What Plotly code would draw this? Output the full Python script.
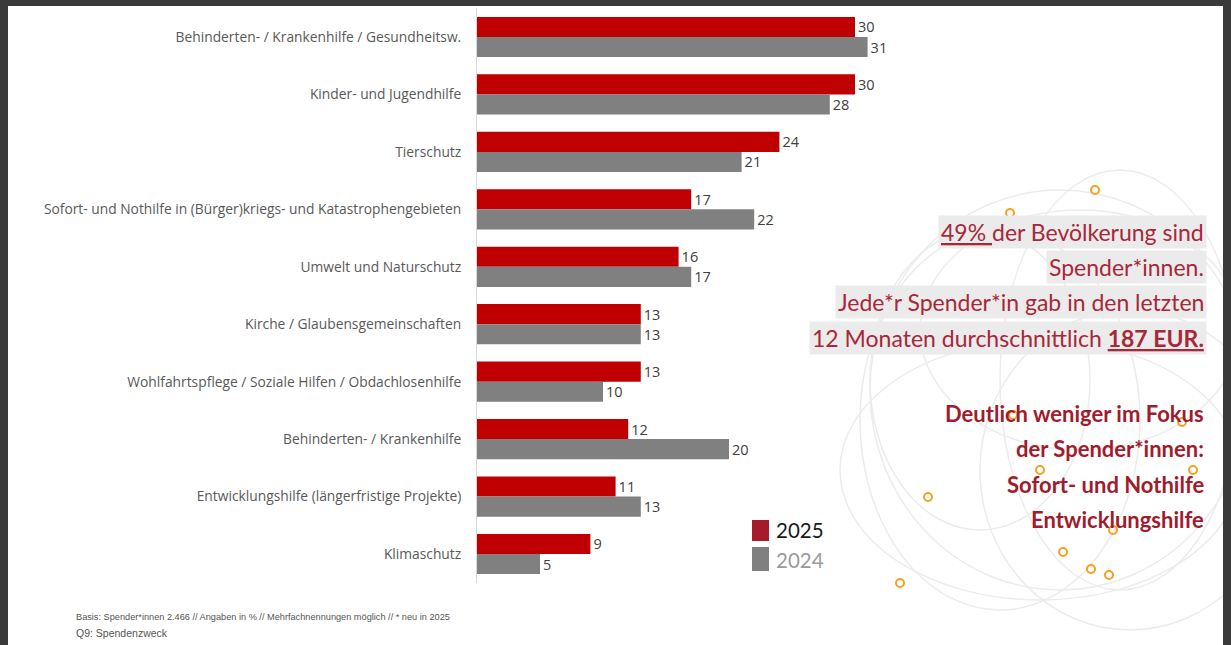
import plotly.graph_objects as go

W, H = 1231, 645

categories = [
    "Behinderten- / Krankenhilfe / Gesundheitsw.",
    "Kinder- und Jugendhilfe",
    "Tierschutz",
    "Sofort- und Nothilfe in (Bürger)kriegs- und Katastrophengebieten",
    "Umwelt und Naturschutz",
    "Kirche / Glaubensgemeinschaften",
    "Wohlfahrtspflege / Soziale Hilfen / Obdachlosenhilfe",
    "Behinderten- / Krankenhilfe",
    "Entwicklungshilfe (längerfristige Projekte)",
    "Klimaschutz",
]
values_2025 = [30, 30, 24, 17, 16, 13, 13, 12, 11, 9]
values_2024 = [31, 28, 21, 22, 17, 13, 10, 20, 13, 5]
series_names = ["2025", "2024"]

RED = "#c00000"
GREY = "#808080"
TXT_RED = "#a8283a"
BOLD_RED = "#a01c2c"

def px(x):
    return x / W

def py(y):
    return 1 - y / H

fig = go.Figure()
fig.add_trace(go.Bar(
    y=categories, x=values_2025, orientation="h", name=series_names[0],
    marker=dict(color=RED, line=dict(width=0)),
    text=values_2025, textposition="outside", cliponaxis=False,
    textfont=dict(size=14.5, color="#404040", family="Open Sans"),
))
fig.add_trace(go.Bar(
    y=categories, x=values_2024, orientation="h", name=series_names[1],
    marker=dict(color=GREY, line=dict(width=0)),
    text=values_2024, textposition="outside", cliponaxis=False,
    textfont=dict(size=14.5, color="#404040", family="Open Sans"),
))

shapes = []
# decorative faint globe lines
for (cx, cy, rx, ry) in [(1060, 390, 190, 200), (1000, 420, 140, 190), (1120, 380, 120, 210),
                         (1040, 470, 200, 130), (1080, 330, 160, 120), (980, 380, 110, 150),
                         (1130, 470, 150, 160)]:
    shapes.append(dict(type="circle", xref="paper", yref="paper", layer="below",
                       x0=px(cx - rx), x1=px(cx + rx), y0=py(cy + ry), y1=py(cy - ry),
                       line=dict(color="#ececec", width=1.5)))
# orange rings
for (cx, cy) in [(1095, 190), (1010, 213), (1013, 415), (1182, 422), (1040, 470), (1193, 470),
                 (928, 497), (1113, 530), (1063, 552), (1091, 569), (1109, 575), (900, 583)]:
    shapes.append(dict(type="circle", xref="paper", yref="paper", layer="below",
                       x0=px(cx - 4), x1=px(cx + 4), y0=py(cy + 4), y1=py(cy - 4),
                       line=dict(color="#f5a020", width=2)))
# legend swatches
shapes.append(dict(type="rect", xref="paper", yref="paper", x0=px(752), x1=px(769),
                   y0=py(541), y1=py(520), fillcolor="#a51b2b", line=dict(width=0)))
shapes.append(dict(type="rect", xref="paper", yref="paper", x0=px(752), x1=px(769),
                   y0=py(571), y1=py(547), fillcolor="#808080", line=dict(width=0)))
# dark frame
for (x0, x1, y0, y1) in [(0, W, 0, 6), (0, 8, 0, H), (1223, W, 0, H)]:
    shapes.append(dict(type="rect", xref="paper", yref="paper", x0=px(x0), x1=px(x1),
                       y0=py(y1), y1=py(y0), fillcolor="#3a3a3a", line=dict(width=0),
                       layer="above"))

ann = []
FONT_R = "Lato"
right_lines = [
    ('<span style="text-decoration:underline">49% </span>der Bevölkerung sind', 232),
    ("Spender*innen.", 267),
    ("Jede*r Spender*in gab in den letzten", 302),
    ('12 Monaten durchschnittlich <b><span style="text-decoration:underline">187 EUR.</span></b>', 338),
]
for t, y in right_lines:
    ann.append(dict(text=t, x=px(1207), y=py(y), xref="paper", yref="paper",
                    xanchor="right", yanchor="middle", showarrow=False,
                    bgcolor="#ebebeb", borderpad=2,
                    font=dict(family=FONT_R, size=23, color=TXT_RED)))
bold_lines = [("Deutlich weniger im Fokus", 413), ("der Spender*innen:", 448),
              ("Sofort- und Nothilfe", 484), ("Entwicklungshilfe", 519)]
for t, y in bold_lines:
    ann.append(dict(text="<b>" + t + "</b>", x=px(1206), y=py(y), xref="paper", yref="paper",
                    xanchor="right", yanchor="middle", showarrow=False,
                    font=dict(family=FONT_R, size=22, color=BOLD_RED)))
# legend text
ann.append(dict(text="2025", x=px(774), y=py(530), xref="paper", yref="paper",
                xanchor="left", yanchor="middle", showarrow=False,
                font=dict(family=FONT_R, size=20.5, color="#1a1a1a")))
ann.append(dict(text="2024", x=px(774), y=py(560), xref="paper", yref="paper",
                xanchor="left", yanchor="middle", showarrow=False,
                font=dict(family=FONT_R, size=20.5, color="#9a9a9a")))
# footnotes
ann.append(dict(text="Basis: Spender*innen 2.466 // Angaben in % // Mehrfachnennungen möglich // * neu in 2025",
                x=px(74), y=py(617), xref="paper", yref="paper", xanchor="left", yanchor="middle",
                showarrow=False, font=dict(family="Liberation Sans", size=9.2, color="#555555")))
ann.append(dict(text="Q9: Spendenzweck", x=px(74), y=py(633), xref="paper", yref="paper",
                xanchor="left", yanchor="middle", showarrow=False,
                font=dict(family="Liberation Sans", size=10.5, color="#555555")))

fig.update_layout(
    width=W, height=H, margin=dict(l=0, r=0, t=0, b=0),
    paper_bgcolor="white", plot_bgcolor="rgba(0,0,0,0)",
    barmode="group", bargap=0.30, bargroupgap=0,
    showlegend=False,
    shapes=shapes, annotations=ann,
    xaxis=dict(domain=[px(477), 1], range=[0, 754 / 12.6], visible=False, fixedrange=True),
    yaxis=dict(domain=[py(582.7), py(8.3)], autorange="reversed", showline=True,
               linecolor="#d9d9d9", linewidth=1, showgrid=False, ticks="",
               ticklabelstandoff=12, fixedrange=True,
               tickfont=dict(family="Open Sans", size=13.8, color="#595959")),
)

fig.write_html("out.html", config={"displayModeBar": False},
               post_script="document.body.style.margin='0';document.body.style.overflow='hidden';")
